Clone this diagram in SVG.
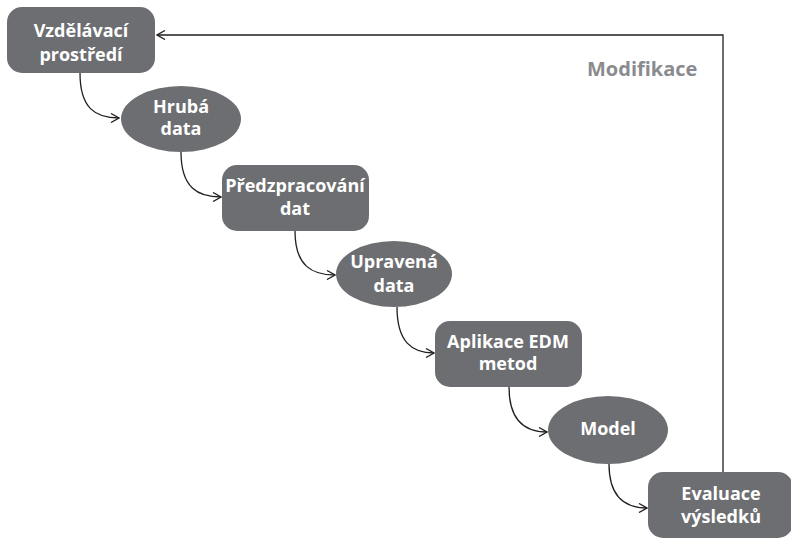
<svg xmlns="http://www.w3.org/2000/svg" width="791" height="538" viewBox="0 0 791 538">
<style>
.n{fill:#6d6e71}
.t{fill:#fff;font-family:"Open Sans","Liberation Sans",sans-serif;font-weight:bold;font-size:18px;text-anchor:middle}
.c{fill:none;stroke:#231f20;stroke-width:1.3}
.m{fill:#8a8b8e;font-family:"Open Sans","Liberation Sans",sans-serif;font-weight:bold;font-size:20px}
</style>
<defs>
<marker id="a" viewBox="0 0 10 10" refX="9" refY="5" markerWidth="10" markerHeight="10" markerUnits="userSpaceOnUse" orient="auto">
<path d="M1,0.5 L9,5 L1,9.5" fill="none" stroke="#231f20" stroke-width="1.3"/>
</marker>
</defs>
<rect width="791" height="538" fill="#fff"/>
<g id="connectors">
<path class="c" d="M80,73 C80,108 95,118 119,118" marker-end="url(#a)"/>
<path class="c" d="M181,152 C181,188 198,197 221,197" marker-end="url(#a)"/>
<path class="c" d="M295,231 C295,266 312,275 335,275" marker-end="url(#a)"/>
<path class="c" d="M397,307 C397,342 412,353 434,353" marker-end="url(#a)"/>
<path class="c" d="M509,387 C509,420 525,432 547,432" marker-end="url(#a)"/>
<path class="c" d="M609,464 C609,497 625,508 647,508" marker-end="url(#a)"/>
<path class="c" d="M723,472 L723,35 L157,35" marker-end="url(#a)"/>
</g>
<text class="m" x="587" y="76">Modifikace</text>
<g id="n1"><rect class="n" x="7" y="7" width="148" height="66" rx="15"/><text class="t" x="81" y="37">Vzdělávací</text><text class="t" x="81" y="61">prostředí</text></g>
<g id="n2"><ellipse class="n" cx="181" cy="119" rx="60" ry="33"/><text class="t" x="181" y="113">Hrubá</text><text class="t" x="181" y="135">data</text></g>
<g id="n3"><rect class="n" x="222" y="165" width="147" height="66" rx="15"/><text class="t" x="295" y="192">Předzpracování</text><text class="t" x="295" y="215">dat</text></g>
<g id="n4"><ellipse class="n" cx="394" cy="274" rx="58" ry="33"/><text class="t" x="394" y="268">Upravená</text><text class="t" x="394" y="292">data</text></g>
<g id="n5"><rect class="n" x="435" y="321" width="147" height="66" rx="15"/><text class="t" x="508" y="348">Aplikace EDM</text><text class="t" x="508" y="370">metod</text></g>
<g id="n6"><ellipse class="n" cx="608" cy="430" rx="60" ry="34"/><text class="t" x="608" y="435">Model</text></g>
<g id="n7"><rect class="n" x="648" y="472" width="145" height="66" rx="15"/><text class="t" x="721" y="500">Evaluace</text><text class="t" x="721" y="523">výsledků</text></g>
</svg>
